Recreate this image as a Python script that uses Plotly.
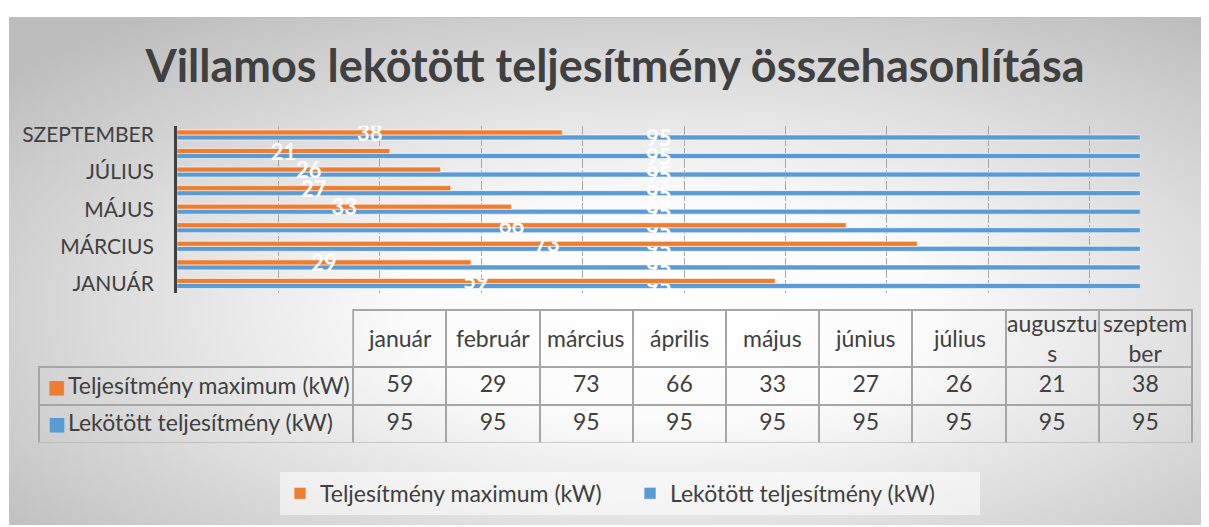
import base64
import plotly.graph_objects as go

# ---------------- data ----------------
months = ["január", "február", "március", "április", "május",
          "június", "július", "augusztus", "szeptember"]
header_labels = ["január", "február", "március", "április", "május",
                 "június", "július", "augusztu<br>s", "szeptem<br>ber"]
max_vals = [59, 29, 73, 66, 33, 27, 26, 21, 38]
lek_vals = [95, 95, 95, 95, 95, 95, 95, 95, 95]
series_names = ["Teljesítmény maximum (kW)", "Lekötött teljesítmény (kW)"]
series_colors = ["#ED7D31", "#5B9BD5"]
title_text = "Villamos lekötött teljesítmény összehasonlítása"

ORANGE, BLUE = series_colors
TXT = "#404040"
FONT = "Lato"

# page body has an 8px margin: lay out in screen pixels, shifted
OFF = 8
W, H = 1209 - OFF, 527 - OFF

def px_x(v):
    return (v - OFF) / W

def px_y(v):
    return 1 - (v - OFF) / H

fig = go.Figure()

# blue first so that orange sits above it in each group
fig.add_trace(go.Bar(
    y=months, x=lek_vals, orientation="h", name=series_names[1],
    marker=dict(color=BLUE, line=dict(color="rgba(255,255,255,0.6)", width=1)),
    text=lek_vals, textposition="inside", insidetextanchor="middle",
    textangle=0, constraintext="none",
    textfont=dict(family=FONT, size=22, color="white", weight="bold"),
    legendrank=2, hoverinfo="skip",
))
fig.add_trace(go.Bar(
    y=months, x=max_vals, orientation="h", name=series_names[0],
    marker=dict(color=ORANGE, line=dict(color="rgba(255,255,255,0.6)", width=1)),
    text=max_vals, textposition="inside", insidetextanchor="middle",
    textangle=0, constraintext="none",
    textfont=dict(family=FONT, size=22, color="white", weight="bold"),
    legendrank=1, hoverinfo="skip",
))

# ---------------- data table ----------------
cell_values = [["", ""]] + [[m, l] for m, l in zip(max_vals, lek_vals)]
line_col = "#a6a6a6"
TAB_L, TAB_R = 39, 1192
TAB_T, HEAD_H, ROW_H = 309, 57, 38
col_w = [314] + [93.1] * 9
fig.add_trace(go.Table(
    domain=dict(x=[px_x(TAB_L), px_x(TAB_R)],
                y=[px_y(TAB_T + HEAD_H + 2 * ROW_H + 2), px_y(TAB_T)]),
    columnwidth=col_w,
    header=dict(
        values=[""] * 10,
        height=HEAD_H,
        fill=dict(color="rgba(0,0,0,0)"),
        line=dict(color=["rgba(0,0,0,0)"] + [line_col] * 9, width=2),
        font=dict(family=FONT, size=23, color=TXT),
    ),
    cells=dict(
        values=cell_values,
        height=ROW_H,
        align=["left"] + ["center"] * 9,
        fill=dict(color="rgba(0,0,0,0)"),
        line=dict(color=line_col, width=2),
        font=dict(family=FONT, size=23, color=TXT),
    ),
))

# header texts, vertically centred in the header row
scale = (TAB_R - TAB_L) / sum(col_w)
annotations = []
x0 = TAB_L + col_w[0] * scale
for i, lab in enumerate(header_labels):
    cw = col_w[i + 1] * scale
    annotations.append(dict(
        text=lab, x=px_x(x0 + cw / 2), y=px_y(TAB_T + HEAD_H / 2),
        xref="paper", yref="paper", xanchor="center", yanchor="middle",
        showarrow=False, font=dict(family=FONT, size=23, color=TXT)))
    x0 += cw

# row labels with legend keys in the table's first column
for r, (name, col) in enumerate(zip(series_names, series_colors)):
    yc = px_y(TAB_T + HEAD_H + ROW_H * (r + 0.5))
    annotations.append(dict(
        text="■", x=px_x(TAB_L + 7), y=px_y(TAB_T + HEAD_H + ROW_H * (r + 0.5) + 1),
        xref="paper", yref="paper", xanchor="left", yanchor="middle",
        showarrow=False, font=dict(family="DejaVu Sans", size=19, color=col)))
    annotations.append(dict(
        text=name, x=px_x(TAB_L + 27), y=yc,
        xref="paper", yref="paper", xanchor="left", yanchor="middle",
        showarrow=False, font=dict(family=FONT, size=23, color=TXT)))

# radial gradient chart background
svg = (
    "<svg xmlns='http://www.w3.org/2000/svg' width='1200' height='514' "
    "viewBox='0 0 1200 514' preserveAspectRatio='none'>"
    "<defs><radialGradient id='g' cx='0.55' cy='0.58' r='0.72'>"
    "<stop offset='0' stop-color='#ffffff'/>"
    "<stop offset='0.3' stop-color='#fbfbfb'/>"
    "<stop offset='1' stop-color='#bdbdbd'/>"
    "</radialGradient></defs>"
    "<rect x='0' y='0' width='1200' height='514' fill='url(#g)'/>"
    "<line x1='0' y1='0.5' x2='1200' y2='0.5' stroke='#c0c0c0' stroke-width='1'/>"
    "</svg>"
)
src = "data:image/svg+xml;base64," + base64.b64encode(svg.encode()).decode()

fig.update_layout(
    width=W, height=H,
    margin=dict(l=0, r=0, t=0, b=0),
    paper_bgcolor="white",
    plot_bgcolor="rgba(0,0,0,0)",
    images=[dict(source=src, xref="paper", yref="paper",
                 x=px_x(9), y=px_y(13), sizex=1200 / W, sizey=514 / H,
                 xanchor="left", yanchor="top", sizing="stretch", layer="below")],
    annotations=annotations,
    title=dict(text=f"<b>{title_text}</b>", x=px_x(615), xanchor="center",
               y=px_y(66), yanchor="middle",
               font=dict(family=FONT, size=45, color=TXT)),
    barmode="group",
    bargap=0.46,
    bargroupgap=0,
    uniformtext=dict(minsize=22, mode="show"),
    xaxis=dict(domain=[px_x(177), px_x(1191)], range=[0, 100], dtick=10,
               showticklabels=False, showgrid=True, gridcolor="#a6a6a6",
               griddash="9px,2px", gridwidth=1, zeroline=False, showline=False,
               anchor="y"),
    yaxis=dict(domain=[px_y(292), px_y(123)], type="category",
               categoryorder="array", categoryarray=months,
               tickvals=[months[i] for i in (0, 2, 4, 6, 8)],
               ticktext=[months[i].upper() for i in (0, 2, 4, 6, 8)],
               tickfont=dict(family=FONT, size=21, color=TXT),
               ticks="", ticklabelstandoff=16,
               showline=True, linecolor="#404040", linewidth=3,
               showgrid=False, zeroline=False),
    legend=dict(orientation="h", x=px_x(630), xanchor="center", y=px_y(495),
                yanchor="middle", bgcolor="rgba(255,255,255,0.55)",
                font=dict(family=FONT, size=23, color=TXT),
                entrywidth=305, itemwidth=30, traceorder="normal"),
    showlegend=True,
)

fig.write_html("out.html")
